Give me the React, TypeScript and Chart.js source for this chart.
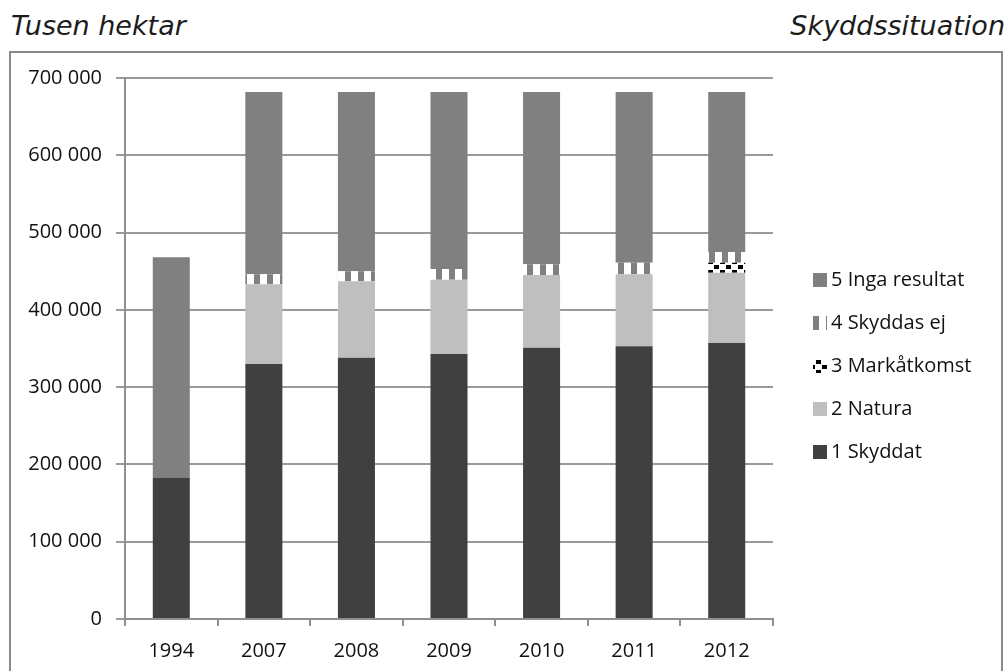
import React, { useEffect, useRef } from "react";
import { Chart, registerables } from "chart.js";

Chart.register(...registerables);

const categories = ["1994", "2007", "2008", "2009", "2010", "2011", "2012"];
const skyddat = [183000, 330000, 338000, 343000, 351000, 353000, 357000];
const natura = [0, 103000, 99000, 96000, 94000, 93000, 91000];
const markatkomst = [0, 0, 0, 0, 0, 0, 13000];
const skyddasEj = [0, 13000, 13000, 14000, 14000, 15000, 14000];
const ingaResultat = [285000, 236000, 232000, 229000, 223000, 221000, 207000];
const seriesLabels = ["1 Skyddat", "2 Natura", "3 Markåtkomst", "4 Skyddas ej", "5 Inga resultat"];
const yMax = 700000;
const yStep = 100000;

const TICK_FONT = "'Open Sans', 'Liberation Sans', sans-serif";

function stripePattern(): CanvasPattern | string {
  const c = document.createElement("canvas");
  c.width = 13;
  c.height = 13;
  const g = c.getContext("2d");
  if (!g) return "#808080";
  g.fillStyle = "#ffffff";
  g.fillRect(0, 0, 13, 13);
  g.fillStyle = "#808080";
  g.fillRect(7, 0, 6, 13);
  return g.createPattern(c, "repeat") || "#808080";
}

function dotPattern(): CanvasPattern | string {
  const c = document.createElement("canvas");
  c.width = 12;
  c.height = 10;
  const g = c.getContext("2d");
  if (!g) return "#000";
  g.fillStyle = "#ffffff";
  g.fillRect(0, 0, 12, 10);
  g.fillStyle = "#000000";
  g.fillRect(0, 0, 5, 4);
  g.fillRect(6, 5, 5, 4);
  return g.createPattern(c, "repeat") || "#000";
}

const legendPlugin = {
  id: "customLegend",
  afterDraw(chart: any) {
    const ctx = chart.ctx as CanvasRenderingContext2D;
    const ds = chart.data.datasets;
    const x0 = 813;
    const yTop = 280;
    const gap = 43;
    ctx.save();
    ctx.font = `20px ${TICK_FONT}`;
    ctx.textBaseline = "middle";
    ctx.textAlign = "left";
    for (let i = 0; i < ds.length; i++) {
      const d = ds[ds.length - 1 - i];
      const cy = yTop + i * gap;
      ctx.fillStyle = d.backgroundColor;
      ctx.fillRect(x0, cy - 7, 14, 14);
      ctx.fillStyle = "#111111";
      ctx.fillText(d.label, x0 + 18, cy);
    }
    ctx.restore();
  },
};

export default function App() {
  const ref = useRef<HTMLCanvasElement | null>(null);

  useEffect(() => {
    if (!ref.current) return;
    const stripes = stripePattern();
    const dots = dotPattern();
    const colors: any[] = ["#404040", "#bfbfbf", dots, stripes, "#808080"];
    const values = [skyddat, natura, markatkomst, skyddasEj, ingaResultat];
    const chart = new Chart(ref.current, {
      type: "bar",
      data: {
        labels: categories,
        datasets: values.map((v, i) => ({
          label: seriesLabels[i],
          data: v,
          backgroundColor: colors[i],
          borderWidth: 0,
          barPercentage: 0.4,
          categoryPercentage: 1.0,
        })),
      },
      options: {
        animation: false,
        responsive: false,
        devicePixelRatio: 1,
        layout: { padding: { top: 78, right: 235, bottom: 0, left: 0 } },
        plugins: {
          legend: { display: false },
          tooltip: { enabled: false },
          title: { display: false },
        },
        scales: {
          x: {
            stacked: true,
            grid: {
              display: true,
              drawOnChartArea: false,
              drawTicks: true,
              tickLength: 7,
              color: "#8f8f8f",
              lineWidth: 2,
              offset: true,
            },
            border: { display: true, color: "#8f8f8f", width: 2 },
            ticks: {
              color: "#111111",
              font: { family: TICK_FONT, size: 20 },
              padding: 13,
              maxRotation: 0,
            },
            afterFit(scale: any) {
              scale.height = 52;
            },
          },
          y: {
            stacked: true,
            min: 0,
            max: yMax,
            grid: {
              color: "#9a9a9a",
              lineWidth: 2,
              drawTicks: true,
              tickLength: 9,
            },
            border: { display: true, color: "#8f8f8f", width: 2 },
            ticks: {
              stepSize: yStep,
              autoSkip: false,
              color: "#111111",
              font: { family: TICK_FONT, size: 20 },
              padding: 14,
              callback: (v: any) =>
                Number(v)
                  .toString()
                  .replace(/\B(?=(\d{3})+(?!\d))/g, " "),
            },
            afterFit(scale: any) {
              scale.width = 125;
            },
          },
        },
      },
      plugins: [legendPlugin],
    });
    return () => chart.destroy();
  }, []);

  const titleStyle: React.CSSProperties = {
    position: "absolute",
    top: 12,
    fontFamily: "'DejaVu Sans', sans-serif",
    fontStyle: "italic",
    fontSize: 27,
    lineHeight: "27px",
    color: "#1c1c1c",
    whiteSpace: "nowrap",
  };

  return (
    <div
      style={{
        position: "fixed",
        left: 0,
        top: 0,
        width: 1008,
        height: 671,
        overflow: "hidden",
        background: "#ffffff",
      }}
    >
      <div style={{ ...titleStyle, left: 11 }}>Tusen hektar</div>
      <div style={{ ...titleStyle, right: 3 }}>Skyddssituation</div>
      <div
        style={{
          position: "absolute",
          left: 9,
          top: 51,
          width: 994,
          height: 700,
          boxSizing: "border-box",
          border: "2px solid #8a8a8a",
        }}
      />
      <canvas
        ref={ref}
        width={1008}
        height={671}
        style={{ position: "absolute", left: 0, top: 0, width: 1008, height: 671 }}
      />
    </div>
  );
}
